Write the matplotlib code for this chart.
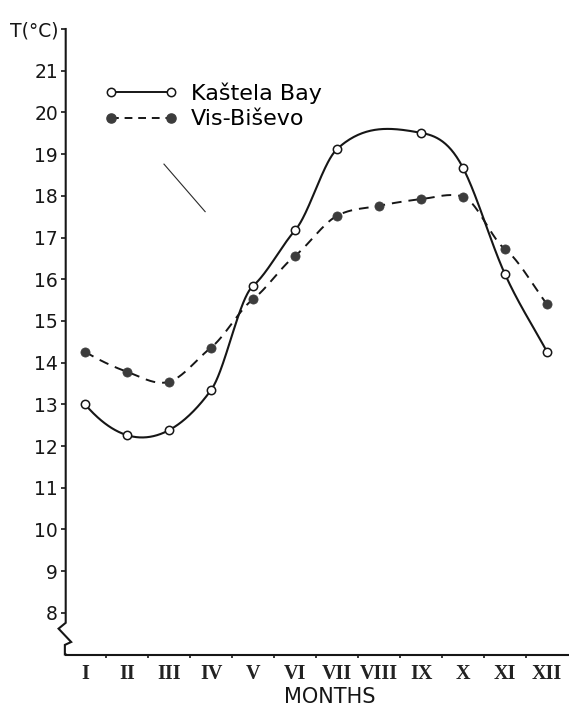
import numpy as np
import matplotlib
matplotlib.use("Agg")
import matplotlib.pyplot as plt
from matplotlib.lines import Line2D

# Monthly mean sea temperature (°C)
months = ["I", "II", "III", "IV", "V", "VI", "VII", "VIII", "IX", "X", "XI", "XII"]
kastela = [13.0, 12.26, 12.38, 13.34, 15.84, 17.17, 19.12, np.nan, 19.51, 18.67, 16.12, 14.26]
vis_bisevo = [14.26, 13.78, 13.54, 14.36, 15.52, 16.56, 17.52, 17.76, 17.92, 17.98, 16.72, 15.40]
yticks = list(range(8, 23))
ytick_labels = [str(v) for v in range(8, 22)] + ["T(°C)"]

INK = "#161616"
DOT = "#3c3c3c"
SANS = ["DejaVu Sans"]
SERIF = ["Liberation Serif", "DejaVu Serif"]


def smooth_curve(x, y, tension, per_seg=60):
    """Cardinal Hermite curve through the points; one tension value per point."""
    x = np.asarray(x, float)
    y = np.asarray(y, float)
    tension = np.asarray(tension, float)
    k = len(x)
    d = np.diff(y) / np.diff(x)
    m = np.empty(k)
    m[1:-1] = (1 - tension[1:-1]) * (y[2:] - y[:-2]) / (x[2:] - x[:-2])
    m[0] = 2 * d[0] - m[1]
    m[-1] = d[-1]
    xs_all, ys_all = [], []
    for i in range(k - 1):
        h = x[i + 1] - x[i]
        t = np.linspace(0, 1, per_seg, endpoint=(i == k - 2))
        h00 = 2 * t**3 - 3 * t**2 + 1
        h10 = t**3 - 2 * t**2 + t
        h01 = -2 * t**3 + 3 * t**2
        h11 = t**3 - t**2
        xs_all.append(x[i] + h * t)
        ys_all.append(h00 * y[i] + h10 * h * m[i] + h01 * y[i + 1] + h11 * h * m[i + 1])
    return np.concatenate(xs_all), np.concatenate(ys_all)


fig = plt.figure(figsize=(5.69, 7.07), dpi=100)
ax = fig.add_axes([65.7 / 569, 52.5 / 707, (568 - 65.7) / 569, 625.5 / 707])

pos = np.arange(1, 13)
k = np.array(kastela)
v = np.array(vis_bisevo)
ok = ~np.isnan(k)

k_tension = [0, 0, 0, 0.2, 0.55, 0.3, -0.2, -0.2, -0.15, 0.0, 0]
v_tension = [0, 0, 0, 0.2, 0.3, 0.2, 0.1, 0, 0, 0.5, 0.4, 0]

xs, ys = smooth_curve(pos[ok], k[ok], k_tension)
ax.plot(xs, ys, color=INK, lw=1.5, solid_capstyle="round")
xs, ys = smooth_curve(pos, v, v_tension)
ax.plot(xs, ys, color=INK, lw=1.4, dashes=(5, 3.6))

ax.plot(pos[ok], k[ok], ls="none", marker="o", ms=6, mfc="white", mec=INK, mew=1.1)
ax.plot(pos, v, ls="none", marker="o", ms=6.6, mfc=DOT, mec=DOT, mew=0.5)

# legend entries drawn as line + two end markers
handles = [
    Line2D([0], [0], color=INK, lw=1.4, marker="o", ms=6, mfc="white", mec=INK, mew=1.1),
    Line2D([0], [0], color=INK, lw=1.4, dashes=(4, 3), marker="o", ms=6.6, mfc=DOT, mec=DOT),
]
ax.legend(handles, ["Kaštela Bay", "Vis-Biševo"], loc="upper left",
          bbox_to_anchor=(0.077, 0.915), frameon=False, numpoints=2,
          handlelength=3.3, handletextpad=0.6, labelspacing=0.26,
          borderpad=0, borderaxespad=0,
          prop={"family": SANS, "size": 16})

# stray pointer stroke
ax.plot([2.88, 3.86], [18.76, 17.62], color="#2a2a2a", lw=0.8)

ax.set_xlim(0.54, 12.5)
ax.set_ylim(7, 22)

# axes: custom left axis with a scale break near the bottom
for s in ("top", "right", "left"):
    ax.spines[s].set_visible(False)
ax.spines["bottom"].set_linewidth(1.5)
ax.spines["bottom"].set_color(INK)
x0 = 0.54
ax.plot([x0, x0, x0 - 0.17, x0 + 0.13, x0 - 0.02, x0 - 0.02, x0],
        [22, 7.76, 7.62, 7.30, 7.23, 7.0, 7.0],
        color=INK, lw=1.5, clip_on=False, solid_joinstyle="miter")

ax.set_yticks(yticks)
ax.set_yticklabels(ytick_labels, family=SANS, fontsize=13.5, color=INK)
ax.tick_params(axis="y", direction="out", length=3.5, width=1.2, pad=2, colors=INK)

ax.set_xticks(pos)
ax.set_xticklabels(months, family=SERIF, fontsize=14.5, fontweight="bold", color="#222222")
ax.set_xticks(np.arange(1.5, 12.5, 1), minor=True)
ax.tick_params(axis="x", which="major", length=0, pad=7)
ax.tick_params(axis="x", which="minor", direction="out", length=2.5, width=1.2, colors=INK)

ax.set_xlabel("MONTHS", family=SANS, fontsize=15, color=INK)
ax.xaxis.set_label_coords(0.526, -0.052)

fig.savefig("out.png", dpi=100)
